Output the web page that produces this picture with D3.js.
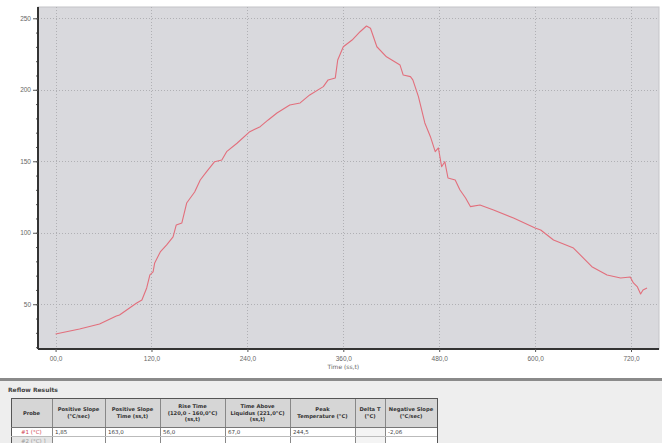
<!DOCTYPE html>
<html><head><meta charset="utf-8">
<script src="https://cdn.jsdelivr.net/npm/d3@7"></script>
<style>
html,body{margin:0;padding:0;background:#fff;}
svg{display:block;font-family:"DejaVu Sans",Tahoma,sans-serif;}
</style></head>
<body><svg id="c" width="662" height="443"></svg>
<script>
// ---- data ----
const times = [0,30,55,76,80,101,108,114,118,122,124,131,139,147,151,158,164,174,181,189,199,208,214,227,243,256,266,277,293,306,318,335,341,350,353,360,371,381,389,394,402,414,431,435,444,447,454,462,469,475,479,483,487,491,500,506,513,519,531,548,573,600,607,623,648,671,690,707,719,723,728,732,735,740];
const temps = [29.2,32.7,36.2,41.8,42.5,50.7,53.0,61.4,70.5,72.6,78.9,86.6,91.5,97.1,105.5,106.9,120.8,128.5,136.9,142.7,149.7,150.9,156.7,162.6,170.7,174.2,178.9,183.8,189.4,190.8,196.4,202.2,206.9,208.3,220.8,230.1,234.8,240.6,244.6,243.0,230.1,223.1,217.3,210.3,209.2,206.9,195.2,176.8,167.2,156.7,159.3,146.2,149.7,138.3,136.9,129.9,124.3,118.3,119.4,115.9,110.3,103.3,101.9,94.9,89.3,76.3,70.5,68.4,69.1,64.9,62.1,57.2,60.0,61.4];
const xTicks = [0,120,240,360,480,600,720];
const xTickLabels = ["00,0","120,0","240,0","360,0","480,0","600,0","720,0"];
const yTicks = [50,100,150,200,250];
const yTickLabels = ["50","100","150","200","250"];
const xTitle = "Time (ss,t)";
const tableTitle = "Reflow Results";
const headers = [
  ["Probe"],
  ["Positive Slope","(°C/sec)"],
  ["Positive Slope","Time (ss,t)"],
  ["Rise Time","(120,0 - 160,0°C)","(ss,t)"],
  ["Time Above","Liquidus (221,0°C)","(ss,t)"],
  ["Peak","Temperature (°C)"],
  ["Delta T","(°C)"],
  ["Negative Slope","(°C/sec)"]
];
const row1 = ["#1 (°C)","1,85","163,0","56,0","67,0","244,5","","-2,06"];
const row2 = ["#2 (°C) ]","","","","","","",""];

// ---- layout ----
const svg = d3.select("#c");
const L=38, R=659, T=7, B=349;
const x = d3.scaleLinear().domain([-22,755]).range([L,R]);
const y = d3.scaleLinear().domain([18.7,257.9]).range([B,T]);

svg.append("rect").attr("x",0).attr("y",0).attr("width",662).attr("height",443).attr("fill","#fff");
svg.append("rect").attr("x",L).attr("y",T).attr("width",R-L).attr("height",B-T).attr("fill","#d9d9dd").attr("stroke","#c4c4c8");

// grid
const g = svg.append("g").attr("shape-rendering","crispEdges");
g.selectAll(".vg").data(xTicks).join("line")
  .attr("x1",d=>Math.round(x(d))+0.5).attr("x2",d=>Math.round(x(d))+0.5)
  .attr("y1",T).attr("y2",B).attr("stroke","#b0b0b4").attr("stroke-dasharray","1,2");
g.selectAll(".hg").data(yTicks).join("line")
  .attr("y1",d=>Math.round(y(d))+0.5).attr("y2",d=>Math.round(y(d))+0.5)
  .attr("x1",L).attr("x2",R).attr("stroke","#b0b0b4").attr("stroke-dasharray","1,2");

// line
const line = d3.line().x((d,i)=>x(times[i])).y((d,i)=>y(temps[i]));
svg.append("path").datum(temps).attr("d",line).attr("fill","none")
  .attr("stroke","#e26f7c").attr("stroke-width",1.1).attr("stroke-linejoin","round");

// axes
const minorX = d3.range(-0,756,30);
const minorY = d3.range(20,258,10);
const xAxisMinor = d3.axisBottom(x).tickValues(minorX).tickSize(2).tickFormat("");
svg.append("g").attr("transform",`translate(0,${B})`).call(xAxisMinor)
  .call(a=>a.select(".domain").remove())
  .call(a=>a.selectAll("line").attr("stroke","#555").attr("transform","translate(0,-1)"));
const xAxis = d3.axisBottom(x).tickValues(xTicks).tickSize(3).tickPadding(4)
  .tickFormat((d,i)=>xTickLabels[i]);
svg.append("g").attr("transform",`translate(0,${B})`).call(xAxis)
  .call(a=>a.select(".domain").attr("stroke","#333").attr("stroke-width",2).attr("d",`M${L},0H${R}`))
  .call(a=>a.selectAll("line").attr("stroke","#555"))
  .call(a=>a.selectAll("text").attr("fill","#666").attr("font-size",6.5));
svg.append("text").attr("x",x(360)).attr("y",369).attr("text-anchor","middle")
  .attr("font-size",6).attr("fill","#666").text(xTitle);

const yAxisMinor = d3.axisLeft(y).tickValues(minorY).tickSize(2).tickFormat("");
svg.append("g").attr("transform",`translate(${L},0)`).call(yAxisMinor)
  .call(a=>a.select(".domain").remove())
  .call(a=>a.selectAll("line").attr("stroke","#555"));
const yAxis = d3.axisLeft(y).tickValues(yTicks).tickSize(5).tickPadding(2)
  .tickFormat((d,i)=>yTickLabels[i]);
svg.append("g").attr("transform",`translate(${L},0)`).call(yAxis)
  .call(a=>a.select(".domain").attr("stroke","#333").attr("stroke-width",2).attr("d",`M0,${T}V${B}`))
  .call(a=>a.selectAll("line").attr("stroke","#555"))
  .call(a=>a.selectAll("text").attr("fill","#666").attr("font-size",6.5));

// ---- table section ----
svg.append("rect").attr("x",0).attr("y",381).attr("width",662).attr("height",62).attr("fill","#eeeeee");
svg.append("rect").attr("x",0).attr("y",378).attr("width",662).attr("height",3).attr("fill","#8a8a8a");
svg.append("text").attr("x",8).attr("y",392).attr("font-size",6).attr("font-weight","bold")
  .attr("fill","#444").text(tableTitle);

const cols=[11,52,105,160,225,290,355,385,437];
const tTop=398, hBot=427, r1Bot=436, r2Bot=446;
const tg = svg.append("g").attr("shape-rendering","crispEdges");
tg.append("rect").attr("x",cols[0]).attr("y",tTop).attr("width",cols[8]-cols[0]).attr("height",hBot-tTop).attr("fill","#d6d6d6");
tg.append("rect").attr("x",cols[0]).attr("y",hBot).attr("width",cols[8]-cols[0]).attr("height",r2Bot-hBot).attr("fill","#ffffff");
tg.append("rect").attr("x",cols[0]).attr("y",r1Bot).attr("width",cols[1]-cols[0]).attr("height",r2Bot-r1Bot).attr("fill","#e6e6e6");
tg.append("rect").attr("x",cols[6]).attr("y",hBot).attr("width",cols[7]-cols[6]).attr("height",r2Bot-hBot).attr("fill","#f4f4f4");
cols.forEach((c,i)=>{
  tg.append("line").attr("x1",c+0.5).attr("x2",c+0.5).attr("y1",tTop).attr("y2",r2Bot)
    .attr("stroke",(i==0||i==8)?"#555":"#888").attr("stroke-width",(i==0||i==8)?1.5:1);
});
[[tTop,"#555",1.5],[hBot,"#777",1],[r1Bot,"#bbb",1]].forEach(([yy,c,w])=>{
  tg.append("line").attr("x1",cols[0]).attr("x2",cols[8]).attr("y1",yy+0.5).attr("y2",yy+0.5).attr("stroke",c).attr("stroke-width",w);
});
headers.forEach((lines,i)=>{
  const cx=(cols[i]+cols[i+1])/2;
  const mid=(tTop+hBot)/2;
  const lh=6.5;
  lines.forEach((s,j)=>{
    svg.append("text").attr("x",cx).attr("y",mid+(j-(lines.length-1)/2)*lh+2)
      .attr("text-anchor","middle").attr("font-size",5.2).attr("font-weight","bold")
      .attr("fill","#333").text(s);
  });
});
row1.forEach((s,i)=>{
  svg.append("text").attr("x",i==0?cols[0]+10:cols[i]+3).attr("y",r1Bot-2)
    .attr("font-size",5.5).attr("fill",i==0?"#d04050":"#444").text(s);
});
row2.forEach((s,i)=>{
  svg.append("text").attr("x",i==0?cols[0]+10:cols[i]+3).attr("y",r2Bot-3)
    .attr("font-size",5.5).attr("fill","#999").text(s);
});
</script></body></html>
